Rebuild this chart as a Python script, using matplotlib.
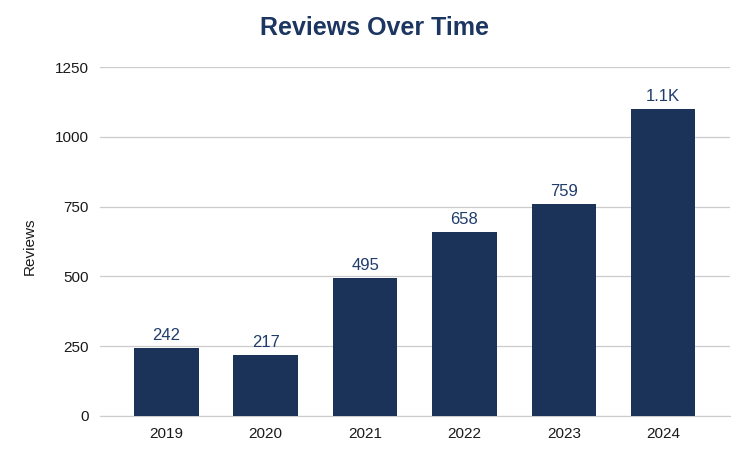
import matplotlib
matplotlib.use('Agg')
from matplotlib import pyplot as plt

plt.rcParams['font.family'] = ['Liberation Sans', 'DejaVu Sans']

years = ['2019', '2020', '2021', '2022', '2023', '2024']
reviews = [242, 217, 495, 658, 759, 1100]
bar_labels = ['242', '217', '495', '658', '759', '1.1K']
y_ticks = [0, 250, 500, 750, 1000, 1250]

navy = '#1b3359'
title_col = '#1c3661'

fig = plt.figure(figsize=(7.5, 4.59), dpi=100)
ax = fig.add_axes([0.133, 0.094, 0.84, 0.76])

x = range(len(years))
bars = ax.bar(x, reviews, width=0.65, color=navy, zorder=3)
for b, lab in zip(bars, bar_labels):
    ax.text(b.get_x() + b.get_width() / 2, b.get_height() + 18, lab,
            ha='center', va='bottom', fontsize=12, color='#1f3c6b')

ax.set_xlim(-0.67, 5.67)
ax.set_ylim(0, 1250)
ax.set_xticks(list(x))
ax.set_xticklabels(years, fontsize=11)
ax.set_yticks(y_ticks)
ax.set_yticklabels([str(t) for t in y_ticks], fontsize=11)
ax.grid(axis='y', color='#cccccc', linewidth=0.9, zorder=0)
for s in ['top', 'right', 'left']:
    ax.spines[s].set_visible(False)
ax.spines['bottom'].set_color('#cccccc')
ax.tick_params(axis='both', length=0, pad=8, colors='#1a1a1a')
ax.set_ylabel('Reviews', fontsize=11, color='#1a1a1a')
ax.yaxis.set_label_coords(-0.10, 0.485)

fig.suptitle('Reviews Over Time', x=0.5, y=0.965, fontsize=18,
             fontweight='bold', color=title_col)

fig.savefig('out.png', dpi=100)
